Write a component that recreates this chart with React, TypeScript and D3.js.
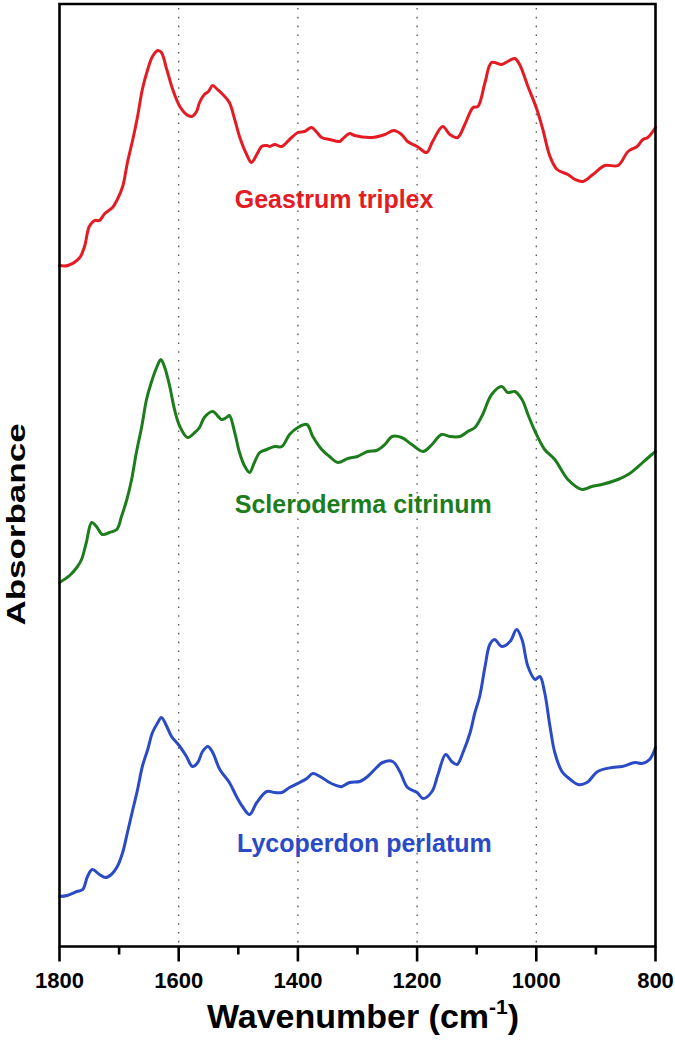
import React from "react";
import * as d3 from "d3";

// Wavenumbers (cm-1) and stacked absorbance values (arbitrary units, offset per sample)
const geastrumWn = [1800,1786,1766,1758,1750,1741,1733,1724,1711,1703,1694,1686,1677,1669,1661,1652,1644,1635,1629,1620,1610,1598,1587,1578,1570,1565,1557,1550,1543,1535,1526,1515,1506,1498,1486,1478,1469,1461,1452,1447,1439,1427,1414,1400,1389,1377,1368,1360,1347,1330,1326,1313,1305,1276,1254,1239,1226,1216,1200,1184,1174,1157,1145,1132,1120,1106,1098,1086,1075,1058,1048,1036,1028,1014,999,989,977,965,947,935,922,905,885,863,846,831,821,813,800];
const geastrumAbs = [68.1,68.1,68.9,70.0,72.0,72.6,72.6,73.3,73.9,74.7,76.0,78.4,80.7,83.0,85.7,87.7,89.0,89.6,89.4,87.7,85.7,84.0,83.2,83.0,83.5,84.4,85.2,85.5,86.1,85.7,85.2,84.4,82.7,81.0,79.2,78.4,79.2,80.0,80.1,80.0,80.2,80.0,80.7,81.4,81.5,81.9,81.4,80.9,80.7,80.5,80.7,81.3,81.1,80.9,81.2,81.6,81.2,80.5,80.0,79.4,80.5,82.0,81.2,80.9,82.2,83.9,84.0,86.4,88.4,88.2,88.5,88.8,88.2,86.0,83.7,81.7,79.0,77.7,77.2,76.7,76.5,77.2,78.1,78.1,79.5,80.0,80.7,80.9,81.9];

const sclerodermaWn = [1800,1783,1771,1763,1755,1746,1738,1728,1716,1704,1696,1687,1679,1671,1662,1654,1646,1637,1630,1624,1615,1607,1598,1585,1573,1565,1557,1543,1528,1520,1515,1506,1498,1489,1481,1473,1464,1452,1439,1427,1414,1400,1385,1375,1360,1347,1333,1316,1300,1283,1268,1254,1242,1226,1209,1190,1175,1159,1145,1128,1115,1103,1090,1075,1058,1048,1036,1024,1014,1002,986,969,947,923,907,890,863,846,829,814,800];
const sclerodermaAbs = [36.4,37.1,37.9,38.7,40.4,42.4,42.0,41.2,41.4,41.7,43.0,44.7,46.7,49.4,52.0,54.7,56.4,57.9,58.7,58.0,56.0,53.7,52.0,50.9,51.4,51.9,52.9,53.5,52.7,52.9,53.1,51.4,49.4,48.0,47.4,48.4,49.4,49.7,50.0,50.0,51.2,51.9,52.2,51.0,49.7,49.0,48.4,48.8,49.0,49.5,49.6,50.2,51.0,50.9,50.2,49.5,50.2,51.2,51.0,51.0,51.5,51.9,53.2,55.2,56.0,55.4,55.5,54.7,53.2,51.5,49.7,48.7,46.7,45.7,46.0,46.2,46.7,47.2,48.0,48.8,49.5];

const lycoperdonWn = [1800,1787,1771,1761,1753,1745,1733,1723,1713,1703,1694,1686,1677,1669,1661,1652,1644,1635,1629,1620,1612,1598,1587,1577,1568,1560,1551,1543,1531,1515,1503,1493,1481,1469,1452,1439,1427,1414,1397,1385,1375,1360,1347,1330,1326,1313,1296,1283,1268,1258,1241,1229,1216,1200,1190,1175,1165,1152,1142,1133,1123,1111,1103,1095,1086,1078,1070,1058,1044,1033,1024,1014,1002,994,986,977,969,957,947,930,915,897,873,856,834,823,810,800];
const lycoperdonAbs = [5.0,5.1,5.5,5.7,7.0,7.7,7.2,6.9,7.2,8.0,9.4,11.4,13.7,15.7,18.0,19.7,21.4,22.4,22.9,22.0,21.0,20.0,19.0,18.0,18.4,19.5,20.0,19.4,17.7,16.4,15.0,14.0,13.2,14.4,15.5,15.4,15.4,15.9,16.4,16.8,17.3,16.9,16.4,16.0,16.0,16.4,16.5,17.0,17.9,18.4,18.5,17.5,15.9,15.4,14.8,15.5,17.2,19.2,18.5,18.2,19.4,21.4,23.4,25.0,28.0,30.2,30.7,30.0,30.5,31.7,30.7,28.0,26.7,27.0,25.4,22.0,19.4,17.5,16.9,16.2,16.4,17.5,17.9,18.0,18.4,18.3,18.7,19.9];

const sampleNames = ["Geastrum triplex", "Scleroderma citrinum", "Lycoperdon perlatum"];
const sampleColors = ["#e41b23", "#1d7d1d", "#2b4bc6"];
// label anchor positions in data units (wavenumber, absorbance)
const labelWn = [1506, 1506, 1502];
const labelAbs = [73.9, 43.4, 9.5];

const majorTicks = [1800, 1600, 1400, 1200, 1000, 800];
const minorTicks = [1700, 1500, 1300, 1100, 900];
const gridTicks = [1600, 1400, 1200, 1000];

const W = 675, H = 1040;
const left = 59.5, right = 655.5, top = 4, bottom = 946.5;

export default function App() {
  const x = d3.scaleLinear().domain([1800, 800]).range([left, right]);
  const y = d3.scaleLinear().domain([0, 94.25]).range([bottom, top]);

  const series = [
    { wn: geastrumWn, abs: geastrumAbs },
    { wn: sclerodermaWn, abs: sclerodermaAbs },
    { wn: lycoperdonWn, abs: lycoperdonAbs },
  ];

  const line = d3
    .line<[number, number]>()
    .x((d) => x(d[0]))
    .y((d) => y(d[1]))
    .curve(d3.curveCatmullRom.alpha(0.5));

  const font = "'Liberation Sans', Arial, Helvetica, sans-serif";

  return (
    <svg
      width={W}
      height={H}
      style={{ position: "absolute", left: 0, top: 0, background: "#fff" }}
      fontFamily={font}
    >
      <rect x={0} y={0} width={W} height={H} fill="#fff" />
      {gridTicks.map((t) => (
        <line
          key={"g" + t}
          x1={x(t)}
          x2={x(t)}
          y1={top + 4}
          y2={bottom}
          stroke="#555"
          strokeWidth={1.3}
          strokeDasharray="1.6,7.2"
        />
      ))}
      {series.map((s, i) => (
        <path
          key={"s" + i}
          d={line(s.wn.map((w, j) => [w, s.abs[j]] as [number, number])) || ""}
          fill="none"
          stroke={sampleColors[i]}
          strokeWidth={3}
          strokeLinejoin="round"
          strokeLinecap="round"
        />
      ))}
      {sampleNames.map((n, i) => (
        <text
          key={"l" + i}
          x={x(labelWn[i])}
          y={y(labelAbs[i])}
          fill={sampleColors[i]}
          fontSize={25}
          fontWeight="bold"
        >
          {n}
        </text>
      ))}
      {/* frame */}
      <path
        d={`M${left},${bottom} L${left},${top} L${right},${top} L${right},${bottom} Z`}
        fill="none"
        stroke="#000"
        strokeWidth={2.6}
      />
      {majorTicks.map((t) => (
        <line key={"M" + t} x1={x(t)} x2={x(t)} y1={bottom} y2={bottom + 15} stroke="#000" strokeWidth={2.6} />
      ))}
      {minorTicks.map((t) => (
        <line key={"m" + t} x1={x(t)} x2={x(t)} y1={bottom} y2={bottom + 8} stroke="#000" strokeWidth={2.6} />
      ))}
      {majorTicks.map((t) => (
        <text key={"t" + t} x={x(t)} y={988} textAnchor="middle" fontSize={22} fontWeight="bold" fill="#000">
          {t}
        </text>
      ))}
      <text x={363} y={1028} textAnchor="middle" fontSize={34} fontWeight="bold" fill="#000">
        Wavenumber (cm
        <tspan fontSize={21} dy={-14}>-1</tspan>
        <tspan dy={14}>)</tspan>
      </text>
      <text
        transform="translate(25,524.5) rotate(-90) scale(1,0.75)"
        textAnchor="middle"
        fontSize={35}
        fontWeight="bold"
        fill="#000"
      >
        Absorbance
      </text>
    </svg>
  );
}
